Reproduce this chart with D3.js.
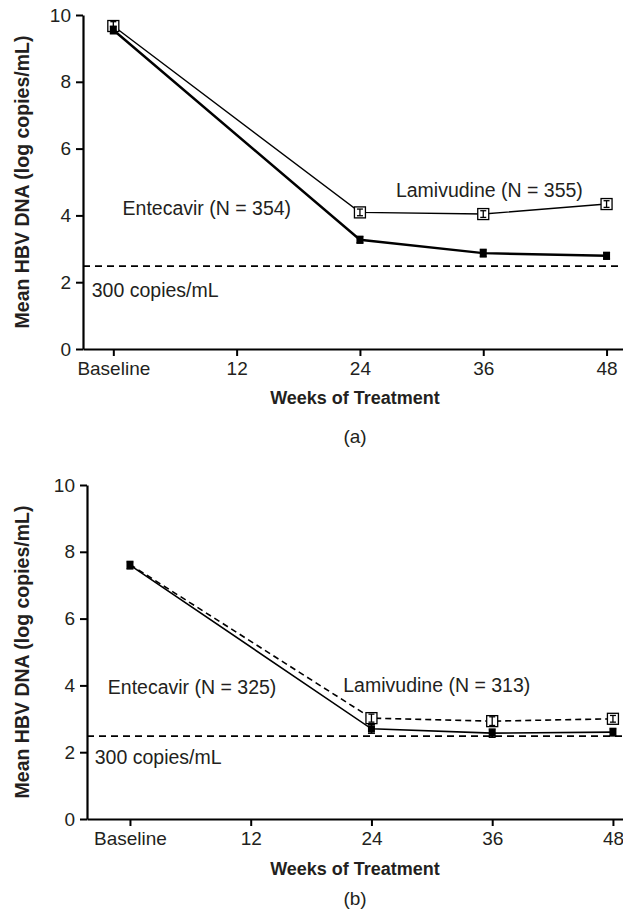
<!DOCTYPE html>
<html>
<head>
<meta charset="utf-8">
<script src="https://cdn.jsdelivr.net/npm/d3@7"></script>
<style>
  html, body { margin: 0; padding: 0; background: #fff; }
  svg { display: block; }
  text { font-family: "Liberation Sans", Arial, Helvetica, sans-serif; fill: #231f20; }
</style>
</head>
<body>
<script>
// Weeks on treatment at which HBV DNA was measured
const weeks = [0, 24, 36, 48];
const tickWeeks = [0, 12, 24, 36, 48];
const tickLabels = ["Baseline", "12", "24", "36", "48"];
const yTicks = [0, 2, 4, 6, 8, 10];
const limitLog = 2.48; // log10(300 copies/mL)

// (a) mean HBV DNA, log copies/mL, with standard errors
const entecavirA = [9.55, 3.27, 2.87, 2.79];
const entecavirAErr = [0.08, 0.07, 0.08, 0.07];
const lamivudineA = [9.67, 4.09, 4.04, 4.34];
const lamivudineAErr = [0.13, 0.1, 0.1, 0.1];

// (b) mean HBV DNA, log copies/mL, with standard errors
const entecavirB = [7.6, 2.7, 2.57, 2.6];
const entecavirBErr = [0.08, 0.1, 0.09, 0.08];
const lamivudineB = [7.62, 3.02, 2.93, 3.0];
const lamivudineBErr = [0.08, 0.12, 0.13, 0.1];

const W = 623, H = 916;
const svg = d3.select("body").append("svg").attr("width", W).attr("height", H);
svg.append("rect").attr("width", W).attr("height", H).attr("fill", "#fff");

function panel(o) {
  const g = svg.append("g");
  const x = d3.scaleLinear().domain(o.xDomain).range([o.left, W]);
  const y = d3.scaleLinear().domain([0, 10]).range([o.bottom, o.top]);

  // y axis
  const ya = g.append("g").attr("transform", `translate(${o.left},0)`)
    .call(d3.axisLeft(y).tickValues(yTicks).tickSize(7).tickPadding(5).tickSizeOuter(0));
  ya.select(".domain").attr("stroke", "#000").attr("stroke-width", 2.2);
  ya.selectAll(".tick line").attr("stroke", "#000").attr("stroke-width", 2);
  ya.selectAll(".tick text").attr("font-size", 19).attr("font-family", null).attr("fill", "#231f20");

  // x axis
  const xa = g.append("g").attr("transform", `translate(0,${o.bottom})`)
    .call(d3.axisBottom(x).tickValues(tickWeeks).tickFormat((d, i) => tickLabels[i])
      .tickSize(7).tickPadding(6).tickSizeOuter(0));
  xa.select(".domain").attr("stroke", "#000").attr("stroke-width", 2.2);
  xa.selectAll(".tick line").attr("stroke", "#000").attr("stroke-width", 2);
  xa.selectAll(".tick text").attr("font-size", 19).attr("font-family", null).attr("fill", "#231f20");

  // 300 copies/mL limit
  g.append("line")
    .attr("x1", o.left).attr("x2", W)
    .attr("y1", y(limitLog)).attr("y2", y(limitLog))
    .attr("stroke", "#000").attr("stroke-width", 1.7).attr("stroke-dasharray", "7,5");

  const line = d3.line().x(d => x(d[0])).y(d => y(d[1]));
  const lamPts = weeks.map((w, i) => [w, o.lam[i], o.lamErr[i]]);
  const entPts = weeks.map((w, i) => [w, o.ent[i], o.entErr[i]]);

  g.append("path").datum(lamPts).attr("d", line).attr("fill", "none")
    .attr("stroke", "#000").attr("stroke-width", o.lamWidth)
    .attr("stroke-dasharray", o.lamDash);
  g.append("path").datum(entPts).attr("d", line).attr("fill", "none")
    .attr("stroke", "#000").attr("stroke-width", o.entWidth);

  // Lamivudine: open squares with error bars
  const lamShown = lamPts.filter(d => o.lamBaseline || d[0] > 0);
  const lg = g.selectAll(".lam").data(lamShown).join("g");
  lg.append("rect")
    .attr("x", d => x(d[0]) - 5.5).attr("y", d => y(d[1]) - 5.5)
    .attr("width", 11).attr("height", 11)
    .attr("fill", "#fff").attr("stroke", "#000").attr("stroke-width", 1.3);
  lg.append("line")
    .attr("x1", d => x(d[0])).attr("x2", d => x(d[0]))
    .attr("y1", d => y(d[1] + d[2])).attr("y2", d => y(d[1] - d[2]))
    .attr("stroke", "#000").attr("stroke-width", 1.3);
  [1, -1].forEach(s => lg.append("line")
    .attr("x1", d => x(d[0]) - 3).attr("x2", d => x(d[0]) + 3)
    .attr("y1", d => y(d[1] + s * d[2])).attr("y2", d => y(d[1] + s * d[2]))
    .attr("stroke", "#000").attr("stroke-width", 1.3));

  // Entecavir: filled squares with error bars
  const eg = g.selectAll(".ent").data(entPts).join("g");
  eg.append("rect")
    .attr("x", d => x(d[0]) - 3.5).attr("y", d => y(d[1]) - 3.5)
    .attr("width", 7).attr("height", 7).attr("fill", "#000");
  eg.append("line")
    .attr("x1", d => x(d[0])).attr("x2", d => x(d[0]))
    .attr("y1", d => y(d[1] + d[2]) - 1).attr("y2", d => y(d[1] - d[2]) + 1)
    .attr("stroke", "#000").attr("stroke-width", 1.6);
  [1, -1].forEach(s => eg.append("line")
    .attr("x1", d => x(d[0]) - 3.5).attr("x2", d => x(d[0]) + 3.5)
    .attr("y1", d => y(d[1] + s * d[2]) - s).attr("y2", d => y(d[1] + s * d[2]) - s)
    .attr("stroke", "#000").attr("stroke-width", 1.6));

  // annotations
  const ann = (t, wx, vy) => g.append("text").attr("x", x(wx)).attr("y", y(vy))
    .attr("font-size", 19.5).text(t);
  ann(o.lamLabel, o.lamLabelAt[0], o.lamLabelAt[1]);
  ann(o.entLabel, o.entLabelAt[0], o.entLabelAt[1]);
  ann("300 copies/mL", o.limLabelAt[0], o.limLabelAt[1]);

  // axis titles
  g.append("text").attr("x", 355).attr("y", o.bottom + o.titleGap)
    .attr("text-anchor", "middle").attr("font-size", 18).attr("font-weight", "bold")
    .text("Weeks of Treatment");
  g.append("text").attr("transform", `translate(29,${(o.top + o.bottom) / 2}) rotate(-90)`)
    .attr("text-anchor", "middle").attr("font-size", 19.5).attr("font-weight", "bold")
    .text("Mean HBV DNA (log copies/mL)");
  g.append("text").attr("x", 355).attr("y", o.bottom + o.tagGap)
    .attr("text-anchor", "middle").attr("font-size", 19).text(o.tag);
}

panel({
  left: 83, top: 15, bottom: 349, xDomain: [-2.95, 49.6],
  ent: entecavirA, entErr: entecavirAErr, lam: lamivudineA, lamErr: lamivudineAErr,
  entWidth: 2.4, lamWidth: 1.4, lamDash: null, lamBaseline: true,
  lamLabel: "Lamivudine (N = 355)", lamLabelAt: [27.5, 4.55],
  entLabel: "Entecavir (N = 354)", entLabelAt: [0.9, 4.0],
  limLabelAt: [-2.1, 1.55], tag: "(a)", titleGap: 55, tagGap: 94
});

panel({
  left: 87, top: 485, bottom: 819, xDomain: [-4.27, 49.0],
  ent: entecavirB, entErr: entecavirBErr, lam: lamivudineB, lamErr: lamivudineBErr,
  entWidth: 1.6, lamWidth: 1.6, lamDash: "6,4", lamBaseline: false,
  lamLabel: "Lamivudine (N = 313)", lamLabelAt: [21.2, 3.8],
  entLabel: "Entecavir (N = 325)", entLabelAt: [-2.2, 3.75],
  limLabelAt: [-3.5, 1.65], tag: "(b)", titleGap: 56, tagGap: 86
});
</script>
</body>
</html>
